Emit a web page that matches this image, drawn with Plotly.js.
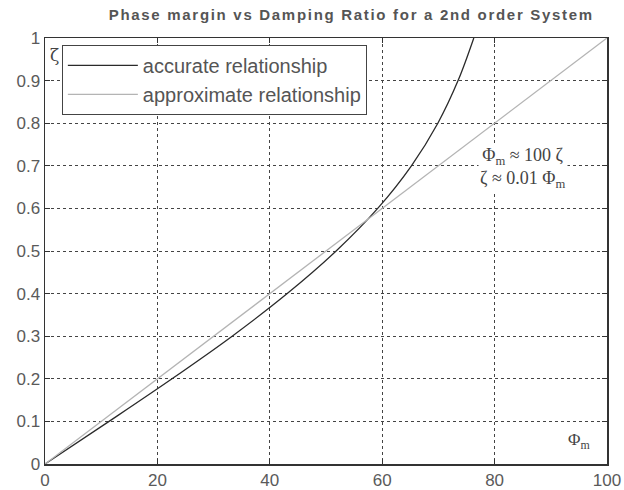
<!DOCTYPE html>
<html><head><meta charset="utf-8">
<script src="https://cdn.plot.ly/plotly-3.0.1.min.js"></script>
<style>body{margin:0;background:#fff}#c{width:624px;height:490px}
.gtitle{letter-spacing:1.7px}</style>
</head><body><div id="c"></div>
<script>
// Accurate relationship: damping ratio vs phase margin (deg)
const accPM   = [0, 11.4, 22.6, 33.3, 43.1, 51.8, 59.2, 65.2, 69.9, 73.5, 76.3];
const accZeta = [0, 0.1, 0.2, 0.3, 0.4, 0.5, 0.6, 0.7, 0.8, 0.9, 1.0];
// Approximate relationship: straight line
const appPM   = [0, 100];
const appZeta = [0, 1];
const xTicks = [0, 20, 40, 60, 80, 100];
const yTicks = [0, 0.1, 0.2, 0.3, 0.4, 0.5, 0.6, 0.7, 0.8, 0.9, 1];
const yTickText = ["0","0.1","0.2","0.3","0.4","0.5","0.6","0.7","0.8","0.9","1"];

const traces = [
  {x: accPM, y: accZeta, mode: 'lines', name: 'accurate relationship',
   line: {color: '#2a2a2a', width: 1.3, shape: 'spline'}},
  {x: appPM, y: appZeta, mode: 'lines', name: 'approximate relationship',
   line: {color: '#b4b4b4', width: 1.3}}
];
const tickFont = {family: 'Liberation Sans, Arial, sans-serif', size: 17, color: '#5a5a5a'};
const layout = {
  width: 624, height: 490,
  margin: {l: 45, r: 17, t: 38, b: 26},
  paper_bgcolor: '#fff', plot_bgcolor: '#fff',
  title: {text: '<b>Phase margin vs Damping Ratio for a 2nd order System</b>',
          font: {family: 'Liberation Sans, Arial, sans-serif', size: 15, color: '#555'},
          x: 0.563, xanchor: 'center', y: 0.97, yanchor: 'middle'},
  xaxis: {range: [0, 100], tickvals: xTicks, ticks: 'inside', ticklen: 5, tickcolor: '#333',
          showline: true, linecolor: '#333', linewidth: 1.5, mirror: 'ticks',
          showgrid: true, gridcolor: '#444', griddash: '3px,3px', gridwidth: 1,
          zeroline: false, tickfont: tickFont, ticklabelstandoff: 0},
  yaxis: {range: [0, 1], tickvals: yTicks, ticktext: yTickText, ticks: 'inside', ticklen: 5, tickcolor: '#333',
          showline: true, linecolor: '#333', linewidth: 1.5, mirror: 'ticks',
          showgrid: true, gridcolor: '#444', griddash: '3px,3px', gridwidth: 1,
          zeroline: false, tickfont: tickFont},
  showlegend: true,
  legend: {x: 0.03, y: 0.984, xanchor: 'left', yanchor: 'top',
           bgcolor: '#fff', bordercolor: '#444', borderwidth: 1,
           font: {family: 'Liberation Sans, Arial, sans-serif', size: 20, color: '#555'},
           tracegroupgap: 0, itemwidth: 70},
  annotations: [
    {xref: 'paper', yref: 'paper', x: 0.005, y: 0.988, xanchor: 'left', yanchor: 'top',
     text: 'ζ', showarrow: false, font: {family: 'DejaVu Serif, serif', size: 17, color: '#444'}},
    {xref: 'x', yref: 'y', x: 85, y: 0.695, xanchor: 'center', yanchor: 'middle', showarrow: false,
     bgcolor: '#fff',
     text: 'Φ<sub>m</sub> ≈ 100 ζ<br>ζ ≈ 0.01 Φ<sub>m</sub>',
     font: {family: 'Liberation Serif, Times New Roman, serif', size: 18, color: '#444'}},
    {xref: 'x', yref: 'y', x: 95, y: 0.055, xanchor: 'center', yanchor: 'middle', showarrow: false,
     text: 'Φ<sub>m</sub>',
     font: {family: 'Liberation Serif, Times New Roman, serif', size: 17, color: '#444'}}
  ]
};
Plotly.newPlot('c', traces, layout, {displayModeBar: false, staticPlot: true});
</script>
</body></html>
